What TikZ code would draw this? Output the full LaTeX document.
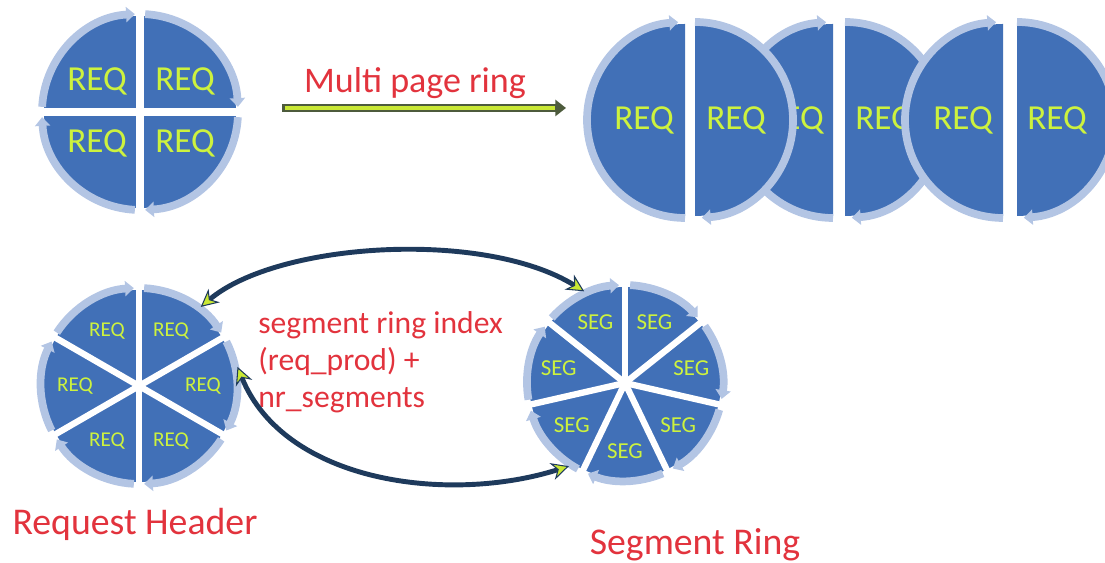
\documentclass[tikz,border=0pt]{standalone}
\usepackage{fontspec}
\setmainfont{Carlito}
\usetikzlibrary{arrows.meta}
\definecolor{discblue}{HTML}{4170B7}
\definecolor{rimblue}{HTML}{B3C5E4}
\definecolor{reqlime}{HTML}{CDF23E}
\definecolor{notered}{HTML}{E2333D}
\definecolor{linknavy}{HTML}{1E3A5C}
\definecolor{linklime}{HTML}{C9E834}
\definecolor{shaftdark}{HTML}{4D5B3C}

\begin{document}
\begin{tikzpicture}[x=0.02cm,y=0.02cm,
 disc/.style={fill=discblue},
 rim/.style={draw=rimblue,line width=4.4pt,-{Triangle[length=5pt,width=8.5pt]}},
 spoke/.style={draw=white,line width=3.6pt},
 hub/.style={circle,inner sep=0pt,minimum size=4cm},
 big/.style={text=reqlime,inner sep=0pt,font=\fontsize{20}{24}\selectfont},
 small/.style={text=reqlime,font=\fontsize{12}{14}\selectfont},
 note/.style={text=notered,font=\fontsize{18}{21}\selectfont},
 title/.style={note,font=\fontsize{21.5}{25}\selectfont},
 shaft/.style={draw=shaftdark,line width=4.5pt,-{Triangle[length=6pt,width=9pt]}},
 shaftcore/.style={draw=linklime,line width=1.8pt,shorten <=1.5pt,shorten >=6pt},
 link/.style={draw=linknavy,line width=2.8pt,
  {Stealth[length=10pt,width=10pt,fill=linklime,line width=0.6pt]}-{Stealth[length=10pt,width=10pt,fill=linklime,line width=0.6pt]}}]
\useasboundingbox (0,0) rectangle (1105,563);
\clip (0,0) rectangle (1105,563);

% single page ring
\node[hub] (quad) at (140,451) {};
\fill[disc] (quad.center) circle[radius=96];
\foreach \a in {0,90,180,270} \draw[spoke,line width=5pt] (quad.center) -- ++(\a:106);
\foreach \a in {90,0,-90,-180}
  \draw[rim] (quad.center) ++(\a-3:98) arc[start angle=\a-3,end angle=\a-87,radius=98];
\node[big] (q1) at (97,482) {REQ};
\node[big] (q2) at (185,482) {REQ};
\node[big] (q3) at (97,420) {REQ};
\node[big] (q4) at (185,420) {REQ};

% multi page ring
\coordinate (mpa) at (282,455);
\coordinate (mpb) at (566,455);
\draw[shaft] (mpa) -- (mpb);
\draw[shaftcore] (mpa) -- (mpb);
\node[note,font=\fontsize{20.5}{24}\selectfont,anchor=base] (mp) at (415,470) {Multi page ring};

\coordinate (p1) at (685,443);
\coordinate (p2) at (695,443);
\coordinate (p3) at (833,443);
\coordinate (p4) at (845,443);
\coordinate (p5) at (1003,443);
\coordinate (p6) at (1017,443);
\fill[disc] (p3) ++(90:96) arc[start angle=90,end angle=270,radius=96] -- cycle;
\draw[rim] (p3) ++(270:98) arc[start angle=270,end angle=94,radius=98];
\node[big] (r3) at (794,443) {REQ};
\fill[disc] (p4) ++(90:96) arc[start angle=90,end angle=-90,radius=96] -- cycle;
\draw[rim] (p4) ++(90:98) arc[start angle=90,end angle=-86,radius=98];
\node[big] (r4) at (885,443) {REQ};
\fill[disc] (p1) ++(90:96) arc[start angle=90,end angle=270,radius=96] -- cycle;
\draw[rim] (p1) ++(270:98) arc[start angle=270,end angle=94,radius=98];
\node[big] (r1) at (644,443) {REQ};
\fill[disc] (p2) ++(90:96) arc[start angle=90,end angle=-90,radius=96] -- cycle;
\draw[rim] (p2) ++(90:98) arc[start angle=90,end angle=-86,radius=98];
\node[big] (r2) at (736,443) {REQ};
\fill[disc] (p5) ++(90:96) arc[start angle=90,end angle=270,radius=96] -- cycle;
\draw[rim] (p5) ++(270:98) arc[start angle=270,end angle=94,radius=98];
\node[big] (r5) at (963,443) {REQ};
\fill[disc] (p6) ++(90:96) arc[start angle=90,end angle=-90,radius=96] -- cycle;
\draw[rim] (p6) ++(90:98) arc[start angle=90,end angle=-86,radius=98];
\node[big] (r6) at (1057,443) {REQ};

% request header
\node[hub] (hdr) at (139,177) {};
\fill[disc] (hdr.center) circle[radius=96];
\foreach \a in {30,90,...,330} \draw[spoke] (hdr.center) -- ++(\a:106);
\foreach \a in {30,90,...,330}
  \draw[rim] (hdr.center) ++(\a-3:98) arc[start angle=\a-3,end angle=\a-57,radius=98];
\foreach \a in {0,60,...,300}
  \path (hdr.center) ++(\a:64) node[small] (h\a) {REQ};
\node[title,anchor=base] (hdrtxt) at (135,28) {Request Header};

% segment ring
\node[hub] (seg) at (625,180) {};
\fill[disc] (seg.center) circle[radius=96];
\foreach \k in {0,...,6} \draw[spoke] (seg.center) -- ++({90-360/7*\k}:106);
\foreach \k in {0,...,6}
  \draw[rim] (seg.center) ++({87-360/7*\k}:98)
    arc[start angle={87-360/7*\k},end angle={93.5-360/7*(\k+1)},radius=98];
\foreach \k in {0,...,6}
  \path (seg.center) ++({90-360/7*(\k+0.5)}:68) node[small,font=\fontsize{13}{15}\selectfont] (s\k) {SEG};
\node[title,anchor=base] (segtxt) at (695,8) {Segment Ring};

\node[note,anchor=north west,align=left,inner sep=0pt] (idx) at (258,252)
  {segment ring index\\(req\_prod) +\\nr\_segments};

\draw[link] (hdr.52) .. controls +(77,65) and +(-100,62) .. (seg.114);
\draw[link] (hdr.11) .. controls +(47,-116) and +(-120,-38) .. (seg.236);
\end{tikzpicture}
\end{document}
